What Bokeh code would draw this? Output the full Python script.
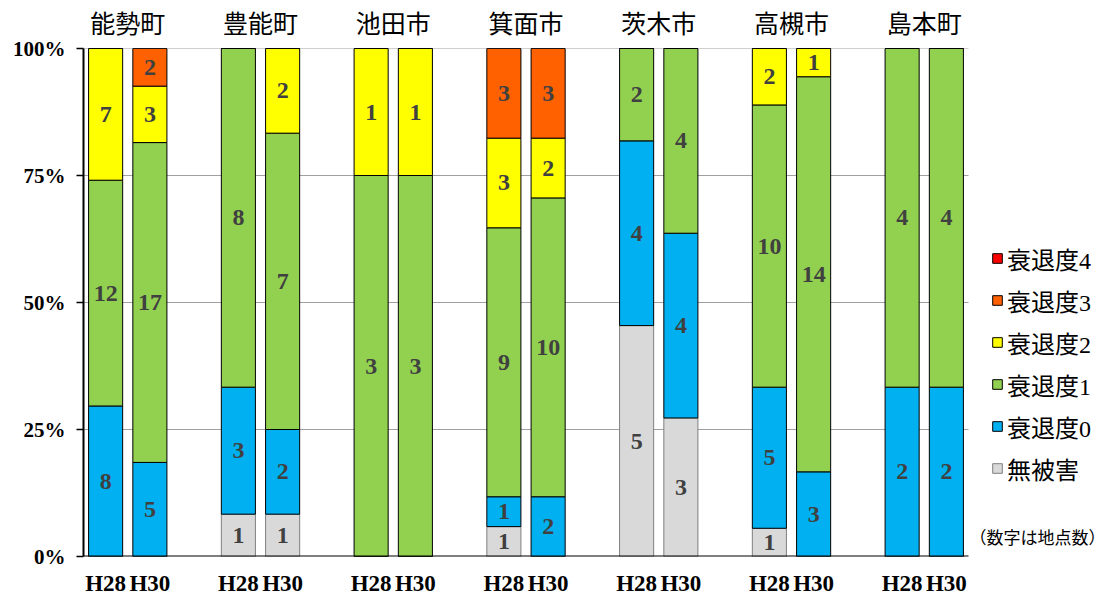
from bokeh.plotting import figure
from bokeh.models import (ColumnDataSource, FixedTicker, LinearAxis, Range1d,
                          Legend, LegendItem, Label)
from bokeh.core.properties import value
from bokeh.embed import file_html
from bokeh.resources import INLINE

# ---- data ----
groups = ["能勢町", "豊能町", "池田市", "箕面市", "茨木市", "高槻市", "島本町"]
years = ["H28", "H30"]
series = ["無被害", "衰退度0", "衰退度1", "衰退度2", "衰退度3", "衰退度4"]
# counts per bar: order = (group, year) -> 能勢H28, 能勢H30, 豊能H28, ...
mugai = [0, 0, 1, 1, 0, 0, 1, 0, 5, 3, 1, 0, 0, 0]
d0 = [8, 5, 3, 2, 0, 0, 1, 2, 4, 4, 5, 3, 2, 2]
d1 = [12, 17, 8, 7, 3, 3, 9, 10, 2, 4, 10, 14, 4, 4]
d2 = [7, 3, 0, 2, 1, 1, 3, 2, 0, 0, 2, 1, 0, 0]
d3 = [0, 2, 0, 0, 0, 0, 3, 3, 0, 0, 0, 0, 0, 0]
d4 = [0, 0, 0, 0, 0, 0, 0, 0, 0, 0, 0, 0, 0, 0]
y_ticks = [0, 25, 50, 75, 100]
y_tick_labels = ["0%", "25%", "50%", "75%", "100%"]
note_text = "（数字は地点数）"

colors = ["#D9D9D9", "#00B0F0", "#92D050", "#FFFF00", "#FF6000", "#FF0000"]
outline = ["#7F7F7F", "#000000", "#000000", "#000000", "#000000", "#000000"]

counts = [mugai, d0, d1, d2, d3, d4]
nbars = len(mugai)
totals = [sum(c[i] for c in counts) for i in range(nbars)]

xs = []
xlabels = {}
for gi, g in enumerate(groups):
    for yi, yr in enumerate(years):
        x = gi * 3 + yi
        xs.append(x)
        xlabels[x] = yr

x_lo = -0.5
x_hi = (len(groups) - 1) * 3 + 1 + 0.5   # end of the bar area

data = {"x": xs}
for name, c in zip(series, counts):
    data[name] = [100.0 * v / t for v, t in zip(c, totals)]
source = ColumnDataSource(data)

# labels at segment centers
lx, ly, lt = [], [], []
for i in range(nbars):
    base = 0.0
    for c in counts:
        h = 100.0 * c[i] / totals[i]
        if c[i] > 0:
            lx.append(xs[i])
            ly.append(base + h / 2)
            lt.append(str(c[i]))
        base += h
lsource = ColumnDataSource(dict(x=lx, y=ly, t=lt))

# ---- figure ----
PX = 44.25
FW = 1029
p = figure(frame_width=FW, frame_height=508,
           x_range=Range1d(x_lo, x_lo + FW / PX), y_range=Range1d(0, 100),
           output_backend="svg", toolbar_location=None,
           min_border_left=83, min_border_right=0,
           min_border_top=45, min_border_bottom=30,
           x_axis_location=None, y_axis_location=None)
p.outline_line_color = None
p.background_fill_color = "white"
p.xgrid.visible = False
p.ygrid.visible = False

# grid lines (only over the bar area)
gy = [t for t in y_ticks if t > 0]
p.segment(x0=[x_lo] * len(gy), x1=[x_hi] * len(gy), y0=gy, y1=gy,
          line_color="#A0A0A0", line_width=1, level="underlay")

renderers = p.vbar_stack(series, x="x", width=0.77, source=source,
                         fill_color=colors, line_color=outline, line_width=1)

# bottom axis line (only over the bar area)
p.segment(x0=[x_lo], x1=[x_hi], y0=[0], y1=[0], line_color="black", line_width=2)

p.text(x="x", y="y", text="t", source=lsource,
       text_font=value("Liberation Serif"), text_font_style="bold",
       text_font_size="24px", text_color="#404040",
       text_align="center", text_baseline="middle")

# y axis
yax = LinearAxis(ticker=FixedTicker(ticks=y_ticks),
                 major_label_overrides=dict(zip(y_ticks, y_tick_labels)))
yax.axis_line_width = 2
yax.axis_line_color = "black"
yax.major_tick_in = 0
yax.major_tick_out = 7
yax.major_tick_line_width = 1.5
yax.minor_tick_line_color = None
yax.major_label_text_font = "Liberation Serif"
yax.major_label_text_font_style = "bold"
yax.major_label_text_font_size = "21px"
yax.major_label_text_color = "black"
yax.major_label_standoff = 11
p.add_layout(yax, "left")

# x axis below (years)
xax = LinearAxis(ticker=FixedTicker(ticks=xs), major_label_overrides=xlabels)
xax.axis_line_color = None
xax.major_tick_line_color = None
xax.minor_tick_line_color = None
xax.major_tick_in = 0
xax.major_tick_out = 0
xax.major_label_text_font = "Liberation Serif"
xax.major_label_text_font_style = "bold"
xax.major_label_text_font_size = "23px"
xax.major_label_text_color = "black"
xax.major_label_standoff = 14
p.add_layout(xax, "below")

# x axis above (groups)
gticks = [gi * 3 + 0.5 for gi in range(len(groups))]
gax = LinearAxis(ticker=FixedTicker(ticks=gticks),
                 major_label_overrides=dict(zip(gticks, groups)))
gax.axis_line_color = None
gax.major_tick_line_color = None
gax.minor_tick_line_color = None
gax.major_tick_in = 0
gax.major_tick_out = 0
gax.major_label_text_font = "Noto Sans CJK JP"
gax.major_label_text_font_size = "25px"
gax.major_label_text_color = "black"
gax.major_label_standoff = 9
p.add_layout(gax, "above")

# legend
items = [LegendItem(label=series[k], renderers=[renderers[k]]) for k in range(5, -1, -1)]
legend = Legend(items=items, location=(908, 70.5))
legend.glyph_width = 12
legend.glyph_height = 12
legend.label_height = 35
legend.spacing = 7
legend.label_standoff = 4
legend.padding = 0
legend.margin = 0
legend.border_line_color = None
legend.background_fill_alpha = 0
legend.label_text_font = "Liberation Serif, Noto Sans CJK JP"
legend.label_text_font_size = "24px"
legend.label_text_color = "black"
p.add_layout(legend, "center")

note = Label(x=21.06, y=4.0, text=note_text,
             text_font="Noto Sans CJK JP", text_font_size="17px",
             text_color="black", text_align="center", text_baseline="middle")
p.add_layout(note)

open("out.html", "w").write(file_html(p, INLINE))
